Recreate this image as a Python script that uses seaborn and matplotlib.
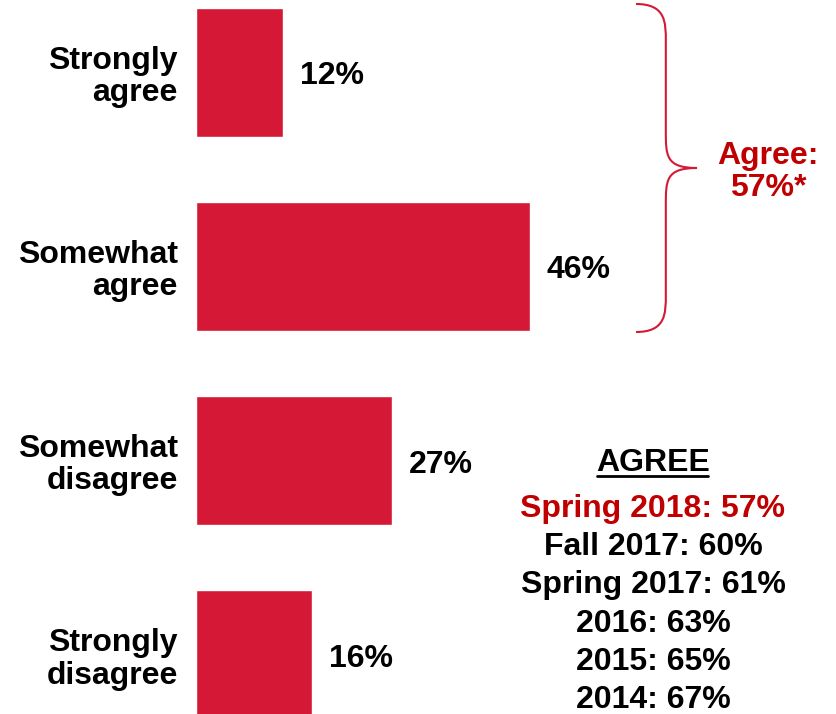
import matplotlib
matplotlib.use("Agg")
import matplotlib.pyplot as plt
from matplotlib.path import Path
from matplotlib.patches import PathPatch
from matplotlib.lines import Line2D
import seaborn as sns

categories = ["Strongly\nagree", "Somewhat\nagree", "Somewhat\ndisagree", "Strongly\ndisagree"]
values = [12, 46, 27, 16]

history_labels = ["Spring 2018", "Fall 2017", "Spring 2017", "2016", "2015", "2014"]
history_values = [57, 60, 61, 63, 65, 67]
agree_total = 57

BAR_RED = "#D51835"
TEXT_RED = "#C00000"
FS = 23

sns.set_style("white")
plt.rcParams["font.family"] = ["Liberation Sans", "DejaVu Sans"]
plt.rcParams["font.weight"] = "bold"
plt.rcParams["text.color"] = "black"
plt.rcParams["ytick.color"] = "black"

fig = plt.figure(figsize=(8.37, 7.14), dpi=100)
ax = fig.add_axes([196 / 837, 0, 639 / 837, 1])

sns.barplot(x=values, y=categories, color=BAR_RED, saturation=1, width=0.664,
            orient="h", ax=ax)
ax.set_xlim(0, 88)
ax.set_ylim(3.304, -0.3706)
sns.despine(ax=ax, left=True, bottom=True)
ax.set_xticks([])
ax.set_xlabel("")
ax.set_ylabel("")
ax.tick_params(axis="y", length=0, pad=13, labelsize=FS, labelcolor="black")
for lab in ax.get_yticklabels():
    lab.set_fontweight("bold")
    lab.set_linespacing(1.1)

# value labels next to each bar
for bar, v in zip(ax.containers[0], values):
    ax.annotate(f"{v}%", (bar.get_width(), bar.get_y() + bar.get_height() / 2),
                xytext=(12, -3), textcoords="offset points", ha="left", va="center",
                fontsize=FS, fontweight="bold", color="black")

# curly brace around the two "agree" bars
x0, xm, xt = 60.6, 64.7, 69.0
y0, ym, y1 = -0.35, 0.494, 1.338
r = 0.19
verts = [(x0, y0), (xm, y0), (xm, y0 + r / 2), (xm, y0 + r),
         (xm, ym - r),
         (xm, ym - r / 3), (xm, ym), (xt, ym),
         (xm, ym), (xm, ym + r / 3), (xm, ym + r),
         (xm, y1 - r),
         (xm, y1 - r / 2), (xm, y1), (x0, y1)]
codes = [Path.MOVETO, Path.CURVE4, Path.CURVE4, Path.CURVE4,
         Path.LINETO,
         Path.CURVE4, Path.CURVE4, Path.CURVE4,
         Path.CURVE4, Path.CURVE4, Path.CURVE4,
         Path.LINETO,
         Path.CURVE4, Path.CURVE4, Path.CURVE4]
ax.add_patch(PathPatch(Path(verts, codes), facecolor="none", edgecolor=BAR_RED,
                       lw=1.5, clip_on=False))

fig.text(768 / 837, 1 - 172 / 714, f"Agree:\n{agree_total}%*", ha="center", va="center",
         fontsize=FS, fontweight="bold", color=TEXT_RED, linespacing=1.05)

# AGREE history block
cx = 653 / 837
fig.text(cx, 1 - 463 / 714, "AGREE", ha="center", va="center", fontsize=FS,
         fontweight="bold", color="black")
fig.add_artist(Line2D([597 / 837, 708 / 837], [1 - 476 / 714, 1 - 476 / 714],
                      color="black", lw=2))
for i, (lbl, v) in enumerate(zip(history_labels, history_values)):
    fig.text(cx, 1 - (509 + i * 38.2) / 714, f"{lbl}: {v}%", ha="center", va="center",
             fontsize=FS, fontweight="bold", color=TEXT_RED if i == 0 else "black")

fig.savefig("out.png", dpi=100)
